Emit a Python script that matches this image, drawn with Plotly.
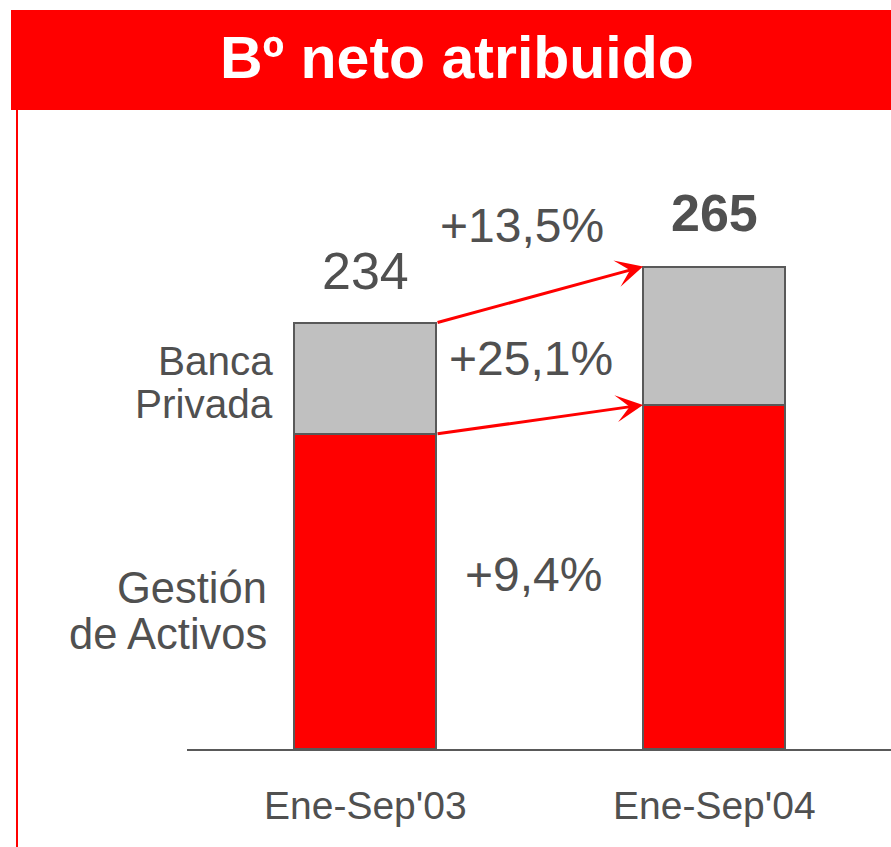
import plotly.graph_objects as go

# Net attributable profit (Bº neto atribuido), stacked by business line
periods = ["Ene-Sep'03", "Ene-Sep'04"]
gestion_activos = [173, 189]
banca_privada = [61, 76]
totals = [234, 265]
growth_total = "+13,5%"
growth_banca = "+25,1%"
growth_gestion = "+9,4%"

RED = "#FF0000"
GRAY = "#C0C0C0"
EDGE = "#595959"
TEXT = "#505050"
FONT = "Liberation Sans, Arial, sans-serif"

W, H = 891, 847
L, R, T, B = 187, 0, 130, 98
PW, PH = W - L - R, H - T - B
BAR_W = 0.407
X_RANGE = [-0.51, 1.507]
Y_RANGE = [0, 340]


def px_x(px):
    """Pixel column -> x data value."""
    return X_RANGE[0] + (px - L) / PW * (X_RANGE[1] - X_RANGE[0])


def px_y(py):
    """Pixel row -> y data value."""
    return Y_RANGE[0] + (T + PH - py) / PH * (Y_RANGE[1] - Y_RANGE[0])


def paper_x(px):
    return (px - L) / PW


def paper_y(py):
    return (T + PH - py) / PH


xs = list(range(len(periods)))

fig = go.Figure()
fig.add_trace(go.Bar(
    x=xs, y=gestion_activos, width=BAR_W, name="Gestión de Activos",
    marker=dict(color=RED, line=dict(color=EDGE, width=2)),
    hoverinfo="skip",
))
fig.add_trace(go.Bar(
    x=xs, y=banca_privada, width=BAR_W, name="Banca Privada",
    marker=dict(color=GRAY, line=dict(color=EDGE, width=2)),
    hoverinfo="skip",
))

annotations = []

# Growth arrows between bar tops
for y0, y1 in [(totals[0], totals[1]), (gestion_activos[0], gestion_activos[1])]:
    annotations.append(dict(
        x=xs[1] - BAR_W / 2, y=y1, xref="x", yref="y",
        ax=xs[0] + BAR_W / 2, ay=y0, axref="x", ayref="y",
        showarrow=True, arrowhead=3, arrowsize=1.5, arrowwidth=3,
        arrowcolor=RED, text="", standoff=0, startstandoff=0,
    ))

# Totals above the bars
annotations.append(dict(
    x=xs[0], y=totals[0], xref="x", yref="y", text=str(totals[0]),
    showarrow=False, yanchor="bottom", yshift=21,
    font=dict(family=FONT, size=52, color=TEXT),
))
annotations.append(dict(
    x=xs[1], y=totals[1], xref="x", yref="y", text="<b>%d</b>" % totals[1],
    showarrow=False, yanchor="bottom", yshift=23,
    font=dict(family=FONT, size=52, color=TEXT),
))

# Growth percentages
for txt, cx, cy in [(growth_total, 522, 225), (growth_banca, 531, 358),
                    (growth_gestion, 533, 574)]:
    annotations.append(dict(
        x=px_x(cx), y=px_y(cy), xref="x", yref="y", text=txt,
        showarrow=False, xanchor="center", yanchor="middle",
        font=dict(family=FONT, size=48, color=TEXT),
    ))

# Segment labels to the left of the first bar
for txt, rx, cy, fs in [("Banca", 274, 361, 40.5), ("Privada", 274, 404, 40.5),
                        ("Gestión", 268, 588, 43.5),
                        ("de Activos", 268, 634, 43.5)]:
    annotations.append(dict(
        x=px_x(rx), y=px_y(cy), xref="x", yref="y", text=txt,
        showarrow=False, xanchor="right", yanchor="middle", borderpad=0,
        font=dict(family=FONT, size=fs, color=TEXT),
    ))

# Category labels
for i, p in enumerate(periods):
    annotations.append(dict(
        x=xs[i], y=paper_y(805), xref="x", yref="paper", text=p,
        showarrow=False, xanchor="center", yanchor="middle",
        font=dict(family=FONT, size=39, color=TEXT),
    ))

# Title banner text
annotations.append(dict(
    x=paper_x(457), y=paper_y(58), xref="paper", yref="paper",
    text="<b>Bº neto atribuido</b>", showarrow=False,
    xanchor="center", yanchor="middle",
    font=dict(family=FONT, size=59, color="white"),
))

shapes = [
    # red banner
    dict(type="rect", xref="paper", yref="paper",
         x0=paper_x(11), x1=paper_x(891), y0=paper_y(110), y1=paper_y(10),
         fillcolor=RED, line=dict(width=0), layer="below"),
    # thin red rule on the left
    dict(type="line", xref="paper", yref="paper",
         x0=paper_x(17), x1=paper_x(17), y0=paper_y(110), y1=paper_y(847),
         line=dict(color=RED, width=2)),
]

fig.update_layout(
    width=W, height=H,
    margin=dict(l=L, r=R, t=T, b=B, pad=0),
    paper_bgcolor="white", plot_bgcolor="white",
    barmode="stack", showlegend=False,
    annotations=annotations, shapes=shapes,
    xaxis=dict(range=X_RANGE, showgrid=False, zeroline=False,
               showticklabels=False, ticks="", showline=True,
               linecolor=EDGE, linewidth=2, fixedrange=True),
    yaxis=dict(range=Y_RANGE, showgrid=False, zeroline=False,
               showticklabels=False, ticks="", showline=False,
               fixedrange=True),
)

fig.write_html("out.html")
